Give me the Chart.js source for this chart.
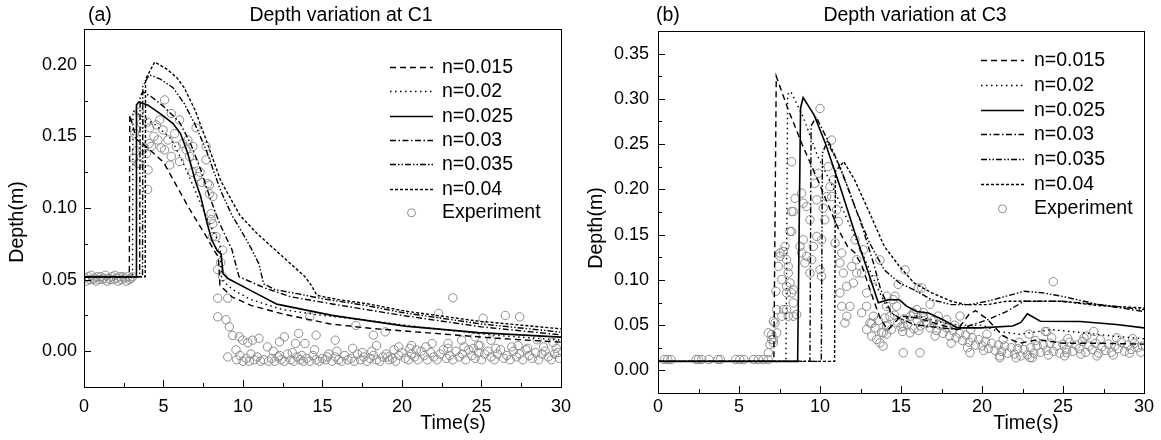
<!DOCTYPE html>
<html lang="en">
<head>
  <meta charset="UTF-8">
  <title>Depth variation at C1 / C3</title>
  <style>
    body { margin: 0; background: #fff; }
    #wrap { position: relative; width: 1161px; height: 440px; }
    canvas { position: absolute; top: 0; }
    #chartA { left: 0; }
    #chartB { left: 580px; }
  </style>
</head>
<body>
  <div id="wrap">
    <canvas id="chartA" width="580" height="440"></canvas>
    <canvas id="chartB" width="581" height="440"></canvas>
  </div>

  <script src="https://cdn.jsdelivr.net/npm/chart.js@4"></script>
  <script>
    // ---- data (time in s, depth in m) ----
    const seriesNames = ["n=0.015", "n=0.02", "n=0.025", "n=0.03", "n=0.035", "n=0.04"];
    const expName = "Experiment";
    const timeTicks = [0, 5, 10, 15, 20, 25, 30];
    const depthTicksA = [0.00, 0.05, 0.10, 0.15, 0.20];
    const depthTicksB = [0.00, 0.05, 0.10, 0.15, 0.20, 0.25, 0.30, 0.35];

    // panel (a), gauge C1
    const a015 = [[0,0.052],[2.85,0.052],[2.88,0.165],[3.3,0.148],[4.0,0.142],[5.0,0.132],[6.0,0.112],[6.6,0.100],[7.2,0.089],[7.7,0.080],[8.2,0.070],[8.45,0.066],[8.55,0.046],[9.3,0.038],[10.5,0.032],[12.5,0.026],[15.5,0.019],[18,0.016],[22,0.0125],[26,0.009],[30,0.0063]];
    const a02 = [[0,0.052],[3.05,0.052],[3.08,0.168],[3.5,0.165],[4.5,0.158],[5.5,0.148],[6.3,0.130],[7.0,0.112],[7.6,0.096],[8.2,0.082],[8.55,0.075],[8.65,0.050],[9.35,0.043],[10.5,0.036],[12.5,0.029],[15,0.025],[17.7,0.0217],[21,0.017],[26,0.011],[30,0.0078]];
    const a025 = [[0,0.052],[3.28,0.052],[3.3,0.172],[3.45,0.174],[4.0,0.172],[4.9,0.165],[5.6,0.159],[6.07,0.152],[6.53,0.138],[7.0,0.119],[7.34,0.108],[7.69,0.0915],[8.04,0.0775],[8.39,0.070],[8.62,0.068],[8.75,0.054],[9.08,0.0506],[10.47,0.0425],[12.1,0.033],[12.5,0.032],[15.6,0.025],[20.2,0.0175],[24.8,0.013],[30,0.0098]];
    const a03 = [[0,0.052],[3.5,0.052],[3.53,0.178],[3.7,0.181],[4.2,0.178],[5.0,0.171],[6.0,0.160],[6.7,0.145],[7.3,0.128],[7.9,0.108],[8.5,0.090],[9.0,0.078],[9.3,0.071],[9.75,0.052],[11.4,0.044],[13,0.038],[15.6,0.033],[20,0.025],[25,0.017],[30,0.0114]];
    const a035 = [[0,0.052],[3.68,0.052],[3.7,0.185],[4.1,0.193],[4.8,0.190],[5.6,0.184],[6.3,0.173],[7.0,0.158],[7.7,0.140],[8.6,0.112],[9.3,0.095],[10,0.082],[10.6,0.070],[11.0,0.061],[11.3,0.047],[12,0.043],[13.5,0.040],[15,0.0366],[17.7,0.032],[20,0.027],[25,0.019],[30,0.0133]];
    const a04 = [[0,0.052],[3.85,0.052],[3.87,0.19],[4.45,0.202],[5.2,0.197],[5.84,0.191],[6.3,0.184],[7.0,0.168],[7.7,0.147],[8.6,0.119],[9.8,0.095],[10.9,0.082],[12.8,0.063],[13.9,0.052],[14.3,0.046],[14.65,0.039],[16,0.036],[17.9,0.033],[20.2,0.028],[24.8,0.021],[30,0.0156]];
    const expA = [
      [0.05,0.051],[0.15,0.049],[0.25,0.052],[0.35,0.050],[0.45,0.053],[0.55,0.050],[0.65,0.051],[0.75,0.049],[0.85,0.052],[0.95,0.050],
      [1.05,0.052],[1.15,0.050],[1.25,0.051],[1.35,0.053],[1.45,0.049],[1.55,0.051],[1.65,0.050],[1.75,0.052],[1.85,0.050],[1.95,0.053],
      [2.05,0.051],[2.15,0.049],[2.25,0.052],[2.35,0.050],[2.45,0.052],[2.55,0.051],[2.65,0.049],[2.75,0.052],[2.85,0.050],[2.95,0.051],[3.05,0.052],
      [5.07,0.1755],[5.49,0.166],[6.01,0.1615],[4.13,0.156],[4.55,0.158],[4.97,0.1545],[5.7,0.152],[5.28,0.1475],[4.65,0.1475],[3.71,0.1406],
      [4.24,0.143],[5.07,0.1406],[5.49,0.136],[6.43,0.1406],[6.64,0.136],[6.95,0.131],[7.16,0.122],[7.68,0.143],[7.05,0.156],[7.68,0.1336],
      [6.01,0.1324],[5.39,0.130],[3.51,0.131],[4.03,0.1266],[3.19,0.152],[3.3,0.14],[7.78,0.117],[7.89,0.110],[7.99,0.096],[8.1,0.089],
      [8.3,0.080],[8.72,0.0706],[6.53,0.1475],[6.85,0.143],[5.8,0.143],[3.92,0.138],[3.61,0.159],[4.76,0.1615],[3.47,0.167],[3.98,0.160],
      [4.4,0.150],[4.85,0.142],[3.8,0.142],[4.1,0.145],[6.2,0.145],[7.3,0.125],[7.4,0.118],[6.8,0.125],[3.1,0.135],[3.4,0.131],[4.0,0.113],
      [7.89,0.116],[8.1,0.108],[8.0,0.092],[8.1,0.080],[8.41,0.057],[8.72,0.052],[8.41,0.037],[9.04,0.037],[8.41,0.024],[8.93,0.022],
      [9.14,0.017],[9.35,0.011],[9.56,0.001],[9.04,-0.004],[8.6,0.062],
      [9.77,0.010],[9.98,0.0077],[10.6,0.0077],[11.54,0.003],[12.3,0.0065],[12.6,0.010],[13.3,0.0054],[13.5,0.0124],[13.9,0.0054],[14.2,0.024],
      [14.6,0.0112],[15.8,0.0077],[17.1,0.018],[18.2,0.0112],[18.4,0.004],[18.95,0.0135],[19.8,0.003],[20.6,0.004],[21.9,0.0054],[22.3,0.0264],
      [22.9,0.0054],[23.2,0.0373],[23.75,0.0077],[24.6,0.010],[24.8,0.004],[25.1,0.023],[25.6,0.0077],[26.5,0.025],[27.4,0.024],[28.5,0.008],
      [29.5,0.006],[11.0,0.009],[10.3,0.006],
      [9.6,-0.006],[9.8,-0.003],[10.0,-0.007],[10.2,-0.005],[10.4,-0.007],[10.7,-0.006],[10.9,-0.004],[11.1,-0.007],[11.3,-0.006],[11.6,-0.007],
      [11.8,-0.005],[12.0,-0.007],[12.2,-0.004],[12.4,-0.006],[12.6,-0.007],[12.8,-0.002],[13.0,-0.006],[13.2,-0.007],[13.4,-0.004],[13.6,-0.006],
      [13.8,-0.007],[14.0,-0.005],[14.2,-0.007],[14.4,-0.003],[14.6,-0.006],[14.8,-0.007],[15.0,-0.005],[15.2,-0.006],[15.4,-0.002],[15.6,-0.007],
      [15.8,-0.004],[16.0,-0.006],[16.2,-0.007],[16.4,-0.003],[16.6,-0.006],[16.8,-0.005],[17.0,-0.007],[17.2,-0.002],[17.4,-0.006],[17.6,-0.004],
      [17.8,-0.007],[18.0,-0.005],[18.2,-0.003],[18.4,-0.006],[18.6,-0.007],[18.8,-0.004],[19.0,-0.002],[19.2,-0.006],[19.4,-0.005],[19.6,-0.007],
      [19.8,-0.003],[20.0,-0.001],[20.2,-0.005],[20.4,-0.006],[20.6,-0.002],[20.8,-0.004],[21.0,-0.006],[21.2,0.000],[21.4,-0.003],[21.6,-0.006],
      [21.8,-0.001],[22.0,-0.004],[22.2,-0.006],[22.4,-0.002],[22.6,0.001],[22.8,-0.005],[23.0,-0.003],[23.2,-0.006],[23.4,0.000],[23.6,-0.004],
      [23.8,-0.002],[24.0,-0.006],[24.2,0.001],[24.4,-0.003],[24.6,-0.005],[24.8,-0.001],[25.0,-0.006],[25.2,-0.002],[25.4,0.000],[25.6,-0.004],
      [25.8,-0.006],[26.0,-0.002],[26.2,0.001],[26.4,-0.005],[26.6,-0.003],[26.8,-0.006],[27.0,0.000],[27.2,-0.004],[27.4,-0.002],[27.6,-0.006],
      [27.8,0.001],[28.0,-0.003],[28.2,-0.005],[28.4,-0.001],[28.6,-0.006],[28.8,-0.002],[29.0,0.000],[29.2,-0.004],[29.4,-0.006],[29.6,-0.002],
      [29.8,-0.001],[29.9,-0.005],
      [10.5,-0.002],[11.9,0.000],[13.1,-0.001],[14.5,0.001],[15.9,0.000],[16.9,0.002],[18.1,0.000],[19.5,0.001],[20.5,0.002],[21.5,0.003],
      [22.9,0.002],[23.9,0.003],[24.9,0.004],[25.9,0.002],[26.9,0.003],[27.9,0.002],[28.9,0.003],[29.7,0.002],[20.9,0.001],[24.5,0.002],
      [27.3,0.004],[19.1,-0.004],[17.5,-0.001],[15.3,-0.004],[13.7,-0.003],[12.3,-0.003]
    ];

    // panel (b), gauge C3
    const b015 = [[0,0.01],[7.15,0.01],[7.3,0.325],[8.05,0.2875],[8.96,0.247],[9.87,0.21],[10.55,0.181],[11.24,0.152],[11.7,0.137],[12.15,0.13],[12.6,0.115],[13.3,0.078],[13.75,0.056],[14.2,0.045],[15,0.06],[16,0.058],[17.5,0.05],[18.5,0.045],[19.2,0.062],[19.6,0.066],[20.3,0.057],[21.3,0.038],[22.3,0.03],[23.5,0.034],[25,0.03],[27,0.03],[30,0.029]];
    const b02 = [[0,0.01],[7.9,0.01],[8.0,0.305],[8.2,0.308],[8.96,0.28],[9.87,0.236],[10.78,0.203],[11.7,0.166],[12.6,0.13],[13.5,0.093],[14.2,0.067],[14.9,0.056],[16,0.06],[17.5,0.053],[18.5,0.05],[20,0.05],[21,0.043],[22.3,0.04],[24.3,0.045],[26,0.042],[28,0.038],[30,0.035]];
    const b025 = [[0,0.01],[8.62,0.01],[8.8,0.29],[8.96,0.3015],[9.64,0.282],[10.33,0.251],[11.24,0.203],[12.15,0.152],[13.06,0.104],[13.6,0.0746],[14.2,0.078],[14.9,0.078],[15.34,0.071],[15.97,0.065],[16.7,0.0635],[17.6,0.056],[18.5,0.047],[19.9,0.047],[21.9,0.049],[22.4,0.053],[22.8,0.0625],[23.6,0.0543],[26.05,0.054],[28.3,0.0507],[30,0.047]];
    const b03 = [[0,0.01],[9.38,0.01],[9.45,0.27],[9.76,0.280],[10.78,0.2435],[11.7,0.203],[12.6,0.159],[13.3,0.1186],[13.75,0.089],[14.4,0.0635],[15.1,0.056],[15.8,0.0507],[17,0.048],[18.5,0.045],[20.35,0.056],[21.5,0.065],[22.6,0.0764],[24.9,0.0764],[27.2,0.0727],[30,0.065]];
    const b035 = [[0,0.01],[10.08,0.01],[10.15,0.24],[10.44,0.2527],[11.24,0.225],[12.15,0.181],[13.06,0.1407],[13.97,0.111],[14.9,0.0966],[15.8,0.089],[16.9,0.078],[18.1,0.0727],[19.2,0.0727],[20.35,0.0764],[21.5,0.082],[22.6,0.0874],[23.8,0.0856],[24.9,0.082],[27.2,0.0727],[30,0.0672]];
    const b04 = [[0,0.01],[10.9,0.01],[10.95,0.22],[11.47,0.2306],[12.15,0.21],[13.06,0.174],[13.97,0.137],[14.9,0.115],[15.8,0.0966],[16.9,0.0856],[18.1,0.0764],[18.99,0.0727],[20.35,0.0727],[21.5,0.0764],[22.6,0.0764],[24.9,0.0764],[27.2,0.0716],[30,0.069]];
    const expB = [
      [0.4,0.012],[0.6,0.012],[0.8,0.012],[2.35,0.012],[2.5,0.012],[2.7,0.012],[3.15,0.012],[3.7,0.012],[3.85,0.012],[4.8,0.012],
      [5.05,0.012],[5.3,0.012],[5.9,0.012],[6.2,0.012],[6.5,0.012],[6.8,0.012],
      [6.81,0.0195],[6.91,0.0286],[7.02,0.0397],[7.12,0.034],[7.22,0.0525],[7.33,0.0672],[7.28,0.0874],[7.53,0.1297],[7.84,0.137],[7.94,0.1223],
      [8.04,0.1076],[7.43,0.1149],[7.64,0.1003],[7.94,0.0929],[8.25,0.0856],[8.35,0.0746],[7.74,0.0672],[8.04,0.0598],[8.56,0.0617],[8.25,0.1535],
      [8.25,0.1755],[8.46,0.19],[6.81,0.0415],[7.02,0.034],[7.12,0.0305],[7.33,0.0415],[7.12,0.0543],[7.64,0.0598],[7.94,0.0672],[8.35,0.0598],
      [7.94,0.0856],[8.15,0.0966],[8.04,0.1149],[7.53,0.126],[7.73,0.1314],[8.35,0.0892],[8.15,0.1535],[8.35,0.1755],[8.25,0.2306],[8.97,0.1443],
      [8.77,0.137],[8.87,0.1297],[9.18,0.126],[9.07,0.1187],[9.38,0.1076],[8.87,0.1958],[8.97,0.1848],[9.18,0.181],[9.38,0.1664],[9.8,0.1884],
      [9.69,0.2068],[9.9,0.2178],[10.0,0.2894],[9.8,0.148],[10.1,0.1443],[10.0,0.1113],[10.1,0.1039],[9.59,0.137],[9.49,0.1223],[10.3,0.1664],
      [10.2,0.1793],[10.41,0.192],[10.62,0.203],[10.72,0.2545],[10.51,0.2251],[10.82,0.2104],[10.72,0.192],[11.03,0.1774],[11.13,0.1645],[10.93,0.1407],
      [11.34,0.1297],[11.23,0.1187],[11.44,0.1076],[11.65,0.0929],[11.23,0.0856],[11.34,0.0708],[11.65,0.0598],[11.54,0.0525],[11.85,0.0708],[12.06,0.0966],
      [12.27,0.1223],[12.27,0.1076],[11.96,0.1149],[12.67,0.1333],[12.57,0.1076],[12.16,0.1443],[12.88,0.0856],[13.3,0.1003],[12.88,0.0708],[12.57,0.0636],
      [13.3,0.0598],[13.09,0.0525],[12.88,0.0452],[13.19,0.0378],[13.5,0.0342],[13.9,0.0415],[13.7,0.0305],[14.12,0.0488],[14.32,0.0598],[14.73,0.0708],
      [14.12,0.0708],[13.9,0.0268],[14.52,0.0782],[15.76,0.0636],[16.38,0.0598],[15.14,0.0488],[15.56,0.0415],[16.59,0.0525],[16.28,0.0911],[15.97,0.0672],
      [15.25,0.111],[13.7,0.122],[16.07,0.091],[16.79,0.073],[14.83,0.095],[14.12,0.082],[14.63,0.082],[15.76,0.062],[16.38,0.064],[17.82,0.056],
      [18.64,0.060],[24.4,0.098],[15.14,0.0195],[16.17,0.0195],[19.26,0.0195],[21.1,0.014],[22.96,0.014],[25.23,0.0195],[26.46,0.038],[24.0,0.043],
      [13.2,0.052],[13.4,0.047],[13.6,0.055],[13.8,0.042],[14.0,0.058],[14.2,0.050],[14.4,0.045],[14.6,0.061],[14.8,0.053],[15.0,0.048],
      [15.2,0.057],[15.4,0.051],[15.6,0.060],[15.8,0.046],[16.0,0.055],[16.2,0.049],[16.4,0.058],[16.6,0.052],[16.8,0.047],[17.0,0.055],
      [17.2,0.044],[17.4,0.050],[17.6,0.041],[17.8,0.047],[18.0,0.038],[18.2,0.044],[18.4,0.036],[18.6,0.041],[18.8,0.033],[19.0,0.039],
      [19.2,0.031],[19.4,0.036],[19.6,0.028],[19.8,0.034],[20.0,0.027],[20.2,0.032],[20.4,0.024],[20.6,0.030],[20.8,0.022],[21.0,0.028],
      [21.2,0.021],[21.4,0.027],[21.6,0.019],[21.8,0.025],[22.0,0.018],[22.2,0.024],[22.4,0.016],[22.6,0.023],[22.8,0.017],[23.0,0.025],
      [23.2,0.019],[23.4,0.027],[23.6,0.020],[23.8,0.028],[24.0,0.022],[24.2,0.030],[24.4,0.021],[24.6,0.027],[24.8,0.019],[25.0,0.029],
      [25.2,0.023],[25.4,0.031],[25.6,0.021],[25.8,0.028],[26.0,0.024],[26.2,0.032],[26.4,0.020],[26.6,0.027],[26.8,0.023],[27.0,0.030],
      [27.2,0.019],[27.4,0.026],[27.6,0.022],[27.8,0.029],[28.0,0.020],[28.2,0.027],[28.4,0.024],[28.6,0.031],[28.8,0.021],[29.0,0.028],
      [29.2,0.023],[29.4,0.030],[29.6,0.025],[29.8,0.020],[29.9,0.027],
      [14.1,0.040],[15.1,0.043],[16.1,0.044],[17.1,0.038],[18.1,0.030],[19.1,0.025],[20.1,0.022],[21.1,0.016],[22.1,0.014],[23.1,0.014],
      [24.1,0.017],[25.1,0.016],[26.1,0.018],[27.1,0.016],[28.1,0.017],[29.1,0.019],[17.3,0.060],[18.3,0.050],[19.3,0.045],[20.3,0.040],
      [21.3,0.034],[22.3,0.031],[23.3,0.033],[24.3,0.036],[25.3,0.035],[26.3,0.036],[27.3,0.034],[28.3,0.036],[29.3,0.035],[26.9,0.043],
      [22.9,0.040],[23.9,0.043]
    ];

    // ---- styles ----
    const FONT = '"Liberation Sans", Arial, sans-serif';
    const dashes = [[6, 4], [1.5, 3.5], [], [6, 2.5, 1.5, 2.5], [6, 2, 1.5, 2, 1.5, 2], [3, 2]];
    const expColor = "#8c8c8c";

    function midpoints(arr) {
      const out = [];
      for (let i = 0; i < arr.length - 1; i++) out.push((arr[i] + arr[i + 1]) / 2);
      return out;
    }

    // frame, inward ticks, titles and legend
    function decorPlugin(p) {
      return {
        id: "decor",
        afterDraw(chart) {
          const ctx = chart.ctx;
          const a = chart.chartArea;
          const xs = chart.scales.x, ys = chart.scales.y;
          ctx.save();
          ctx.strokeStyle = "#000";
          ctx.lineWidth = 1;
          ctx.strokeRect(Math.round(a.left) + 0.5, Math.round(a.top) + 0.5,
                         Math.round(a.right - a.left), Math.round(a.bottom - a.top));

          ctx.beginPath();
          timeTicks.forEach(v => {
            const px = Math.round(xs.getPixelForValue(v)) + 0.5;
            ctx.moveTo(px, a.bottom); ctx.lineTo(px, a.bottom - 7);
          });
          midpoints(timeTicks).forEach(v => {
            const px = Math.round(xs.getPixelForValue(v)) + 0.5;
            ctx.moveTo(px, a.bottom); ctx.lineTo(px, a.bottom - 4);
          });
          p.yTicks.forEach(v => {
            const py = Math.round(ys.getPixelForValue(v)) + 0.5;
            ctx.moveTo(a.left, py); ctx.lineTo(a.left + 7, py);
          });
          midpoints(p.yTicks).forEach(v => {
            const py = Math.round(ys.getPixelForValue(v)) + 0.5;
            ctx.moveTo(a.left, py); ctx.lineTo(a.left + 4, py);
          });
          ctx.stroke();

          ctx.fillStyle = "#000";
          ctx.textBaseline = "middle";
          ctx.font = "19.5px " + FONT;
          ctx.textAlign = "left";
          ctx.fillText(p.label, p.labelX, 16);
          ctx.textAlign = "center";
          ctx.fillText(p.title, p.titleX, 16);

          ctx.font = "19.5px " + FONT;
          ctx.fillText("Time(s)", p.xTitleX, p.xTitleY);
          ctx.save();
          ctx.translate(p.yTitleX, p.yTitleY);
          ctx.rotate(-Math.PI / 2);
          ctx.fillText("Depth(m)", 0, 0);
          ctx.restore();

          // legend
          ctx.font = "19.5px " + FONT;
          ctx.textAlign = "left";
          seriesNames.forEach((name, i) => {
            const y = Math.round(p.legY0 + i * p.legDY) + 0.5;
            ctx.beginPath();
            ctx.setLineDash(dashes[i]);
            ctx.lineWidth = 1.3;
            ctx.moveTo(p.legX1, y); ctx.lineTo(p.legX2, y);
            ctx.stroke();
            ctx.fillText(name, p.legTextX, y);
          });
          ctx.setLineDash([]);
          const ey = p.legY0 + seriesNames.length * p.legDY;
          ctx.beginPath();
          ctx.strokeStyle = expColor;
          ctx.lineWidth = 1;
          ctx.arc((p.legX1 + p.legX2) / 2, ey, 4, 0, Math.PI * 2);
          ctx.stroke();
          ctx.fillText(expName, p.legTextX, ey);
          ctx.restore();
        }
      };
    }

    function buildChart(id, lines, exp, p) {
      const datasets = lines.map((pts, i) => ({
        label: seriesNames[i],
        data: pts.map(([x, y]) => ({ x, y })),
        showLine: true,
        borderColor: "#000",
        borderWidth: i === 2 ? 1.6 : 1.4,
        borderDash: dashes[i],
        pointRadius: 0,
        fill: false,
        tension: 0,
        order: 0
      }));
      datasets.push({
        label: expName,
        data: exp.map(([x, y]) => ({ x, y })),
        showLine: false,
        pointRadius: 4.2,
        pointBorderWidth: 1,
        pointBorderColor: expColor,
        pointBackgroundColor: "rgba(0,0,0,0)",
        order: 1
      });

      return new Chart(document.getElementById(id), {
        type: "scatter",
        data: { datasets },
        options: {
          responsive: false,
          animation: false,
          devicePixelRatio: 1,
          layout: { padding: { top: p.top, right: p.right, left: 0, bottom: 0 } },
          plugins: { legend: { display: false }, tooltip: { enabled: false } },
          scales: {
            x: {
              type: "linear", min: 0, max: 30,
              afterFit: s => { s.height = p.xh; },
              afterBuildTicks: s => { s.ticks = timeTicks.map(v => ({ value: v })); },
              ticks: { autoSkip: false, maxRotation: 0, padding: p.xpad, color: "#000",
                       font: { family: FONT, size: 18 }, callback: v => String(v) },
              grid: { display: false, drawTicks: false },
              border: { display: false }
            },
            y: {
              type: "linear", min: p.ymin, max: p.ymax,
              afterFit: s => { s.width = p.yw; },
              afterBuildTicks: s => { s.ticks = p.yTicks.map(v => ({ value: v })); },
              ticks: { autoSkip: false, padding: p.ypad, color: "#000",
                       font: { family: FONT, size: 18 }, callback: v => Number(v).toFixed(2) },
              grid: { display: false, drawTicks: false },
              border: { display: false }
            }
          }
        },
        plugins: [decorPlugin(p)]
      });
    }

    buildChart("chartA", [a015, a02, a025, a03, a035, a04], expA, {
      top: 29, right: 17, xh: 53, yw: 84, xpad: 9, ypad: 7,
      ymin: -0.025, ymax: 0.225, yTicks: depthTicksA,
      label: "(a)", labelX: 88, title: "Depth variation at C1", titleX: 341,
      xTitleX: 453, xTitleY: 424, yTitleX: 18, yTitleY: 222,
      legX1: 390, legX2: 433, legTextX: 442, legY0: 67, legDY: 24.3
    });

    buildChart("chartB", [b015, b02, b025, b03, b035, b04], expB, {
      top: 31, right: 17, xh: 47, yw: 78, xpad: 3, ypad: 9,
      ymin: -0.025, ymax: 0.375, yTicks: depthTicksB,
      label: "(b)", labelX: 76, title: "Depth variation at C3", titleX: 335,
      xTitleX: 446, xTitleY: 424, yTitleX: 17, yTitleY: 228,
      legX1: 401, legX2: 444, legTextX: 454, legY0: 60, legDY: 24.8
    });
  </script>
</body>
</html>
